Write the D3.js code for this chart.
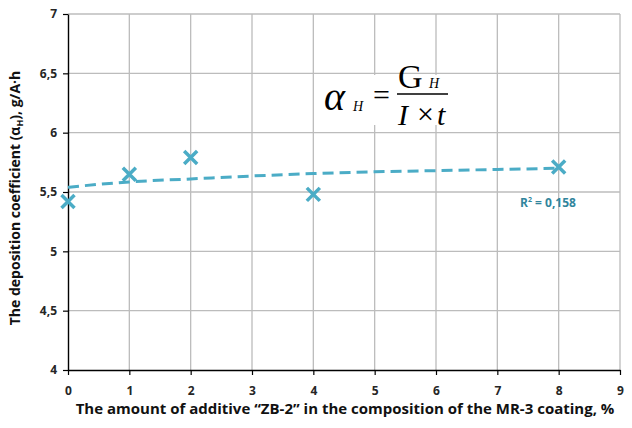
<!DOCTYPE html>
<html>
<head>
<meta charset="utf-8">
<script src="https://cdn.jsdelivr.net/npm/d3@7"></script>
<style>
  body { margin: 0; background: #fff; }
  svg { display: block; }
  .tick text { font-family: 'Open Sans', sans-serif; font-weight: bold; font-size: 12px; fill: #262626; }
</style>
</head>
<body>
<svg id="chart" width="632" height="428"></svg>
<script>
// measured points
const additive = [0, 1, 2, 4, 8]
const coefficient = [5.42, 5.65, 5.79, 5.48, 5.71]

// trend line
const trendX = [0, 1, 2, 3, 4, 5, 6, 7, 8]
const trendY = [5.54, 5.585, 5.61, 5.635, 5.655, 5.67, 5.68, 5.69, 5.7]

const xTicks = [0, 1, 2, 3, 4, 5, 6, 7, 8, 9]
const yTicks = [4, 4.5, 5, 5.5, 6, 6.5, 7]

const teal = '#4bacc6'

const svg = d3.select('#chart')
const margin = { top: 14, right: 12, bottom: 58, left: 68 }
const width = +svg.attr('width') - margin.left - margin.right
const height = +svg.attr('height') - margin.top - margin.bottom
const g = svg.append('g').attr('transform', 'translate(' + margin.left + ',' + margin.top + ')')

const x = d3.scaleLinear().domain([0, 9]).range([0, width])
const y = d3.scaleLinear().domain([4, 7]).range([height, 0])

// grid
g.append('g')
  .selectAll('line')
  .data(yTicks.slice(1))
  .enter()
  .append('line')
  .attr('x1', 0)
  .attr('x2', width)
  .attr('y1', (d) => y(d))
  .attr('y2', (d) => y(d))
  .attr('stroke', '#bcbcbc')
  .attr('stroke-width', 1.3)

g.append('g')
  .selectAll('line')
  .data(xTicks.slice(1))
  .enter()
  .append('line')
  .attr('x1', (d) => x(d))
  .attr('x2', (d) => x(d))
  .attr('y1', 0)
  .attr('y2', height)
  .attr('stroke', '#bcbcbc')
  .attr('stroke-width', 1.3)

// axes
const fmt = (d) => String(d).replace('.', ',')

g.append('g')
  .attr('transform', 'translate(0,' + height + ')')
  .call(d3.axisBottom(x).tickValues(xTicks).tickSize(5).tickPadding(11).tickSizeOuter(0))
  .call((a) => a.select('.domain').attr('stroke', '#000').attr('stroke-width', 1.4))
  .call((a) => a.selectAll('.tick line').attr('stroke', '#000').attr('stroke-width', 1.2))

g.append('g')
  .call(d3.axisLeft(y).tickValues(yTicks).tickFormat(fmt).tickSize(5).tickPadding(6).tickSizeOuter(0))
  .call((a) => a.select('.domain').attr('stroke', '#000').attr('stroke-width', 1.4))
  .call((a) => a.selectAll('.tick line').attr('stroke', '#000').attr('stroke-width', 1.2))

// formula box (covers grid)
const fx = svg.append('g')
fx.append('rect').attr('x', 316).attr('y', 75).attr('width', 136).attr('height', 50).attr('fill', '#fff')
const serif = 'Liberation Serif, Times New Roman, serif'
fx.append('text').attr('x', 324).attr('y', 110).attr('font-family', serif).attr('font-style', 'italic')
  .attr('font-size', 40).text('α')
fx.append('text').attr('x', 353).attr('y', 111).attr('font-family', serif).attr('font-style', 'italic')
  .attr('font-size', 14).text('H')
fx.append('text').attr('x', 373).attr('y', 105).attr('font-family', serif)
  .attr('font-size', 30).text('=')
fx.append('text').attr('x', 398).attr('y', 88).attr('font-family', serif)
  .attr('font-size', 34).text('G')
fx.append('text').attr('x', 429).attr('y', 88).attr('font-family', serif).attr('font-style', 'italic')
  .attr('font-size', 14).text('H')
fx.append('line').attr('x1', 397).attr('x2', 448).attr('y1', 94).attr('y2', 94)
  .attr('stroke', '#000').attr('stroke-width', 1.3)
fx.append('text').attr('x', 398).attr('y', 125).attr('font-family', serif).attr('font-style', 'italic')
  .attr('font-size', 30).text('I')
fx.append('text').attr('x', 417).attr('y', 124).attr('font-family', serif)
  .attr('font-size', 30).text('×')
fx.append('text').attr('x', 437).attr('y', 125).attr('font-family', serif).attr('font-style', 'italic')
  .attr('font-size', 30).text('t')

// trend line
const trend = trendX.map((d, i) => [d, trendY[i]])
g.append('path')
  .datum(trend)
  .attr('fill', 'none')
  .attr('stroke', teal)
  .attr('stroke-width', 3)
  .attr('stroke-dasharray', '11,6')
  .attr('d', d3.line().x((d) => x(d[0])).y((d) => y(d[1])).curve(d3.curveMonotoneX))

// markers
const pts = additive.map((d, i) => ({ x: d, y: coefficient[i] }))
const mk = g.selectAll('.mark').data(pts).enter().append('g')
  .attr('transform', (d) => 'translate(' + x(d.x) + ',' + y(d.y) + ')')
mk.append('path')
  .attr('d', 'M-6.5,-6.5L6.5,6.5M-6.5,6.5L6.5,-6.5')
  .attr('stroke', teal)
  .attr('stroke-width', 3.5)
  .attr('fill', 'none')

// R2 label
svg.append('text')
  .attr('x', 520)
  .attr('y', 207)
  .attr('font-family', 'Open Sans, sans-serif')
  .attr('font-weight', 'bold')
  .attr('font-size', 12)
  .attr('fill', '#31859c')
  .html('R<tspan dy="-5" font-size="7">2</tspan><tspan dy="5"> = 0,158</tspan>')

// axis titles
svg.append('text')
  .attr('x', 345)
  .attr('y', 414)
  .attr('text-anchor', 'middle')
  .attr('font-family', 'Open Sans, sans-serif')
  .attr('font-weight', 'bold')
  .attr('font-size', 15)
  .attr('fill', '#111')
  .text('The amount of additive “ZB-2” in the composition of the MR-3 coating, %')

svg.append('text')
  .attr('transform', 'translate(20,198)rotate(-90)')
  .attr('text-anchor', 'middle')
  .attr('font-family', 'Open Sans, sans-serif')
  .attr('font-weight', 'bold')
  .attr('font-size', 14)
  .attr('fill', '#111')
  .html('The deposition coefficient (α<tspan dy="3" font-size="9">H</tspan><tspan dy="-3">), g/A·h</tspan>')
</script>
</body>
</html>
